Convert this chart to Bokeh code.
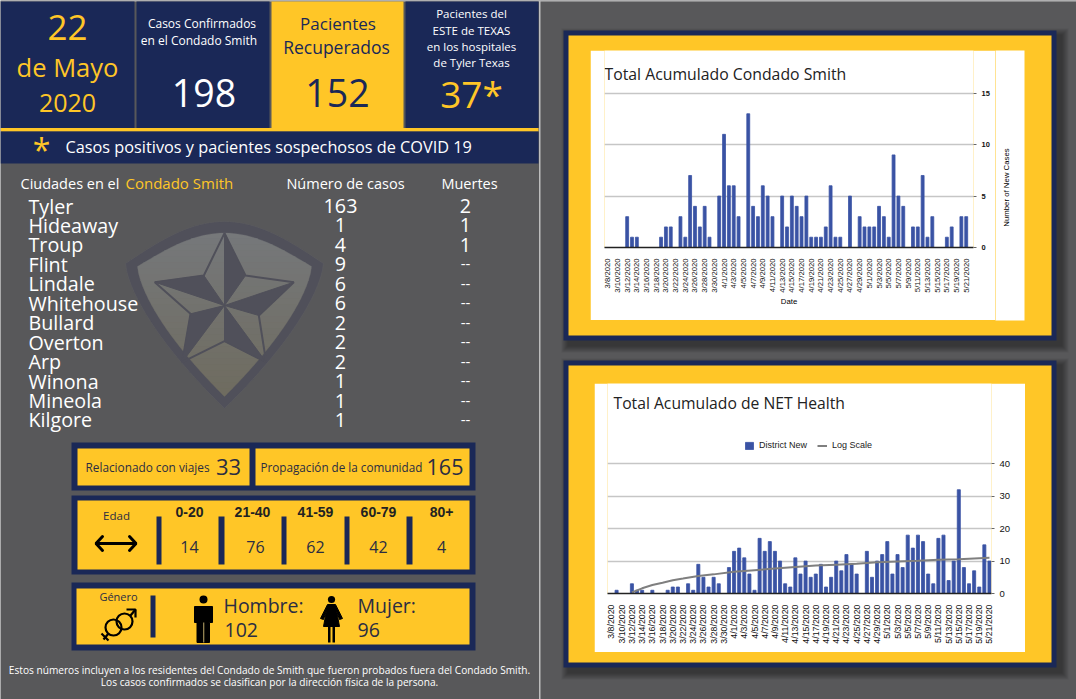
from bokeh.embed import file_html
from bokeh.resources import INLINE
from bokeh.plotting import figure
from bokeh.models import Range1d, FixedTicker, Label, Legend, LegendItem, Column
from bokeh.core.properties import value
import math

# ---------- data ----------
month_days = [("3", 8, 31), ("4", 1, 30), ("5", 1, 21)]
dates = [f"{m}/{d}/2020" for m, a, b in month_days for d in range(a, b + 1)]

smith_new = [0,0,0,0,3,1,1,0,0,0,0,1,2,2,0,3,1,7,4,2,4,1,0,5,11,6,6,3,0,13,4,3,6,5,3,0,5,2,5,4,3,5,1,1,1,2,6,1,1,0,5,0,3,2,2,2,4,3,1,9,5,4,0,2,2,7,1,3,0,0,1,2,0,3,3]
district_new = [0,1,0,0,3,1,1,0,1,0,0,1,2,2,0,3,1,9,5,2,5,3,0,8,13,14,11,6,1,17,13,16,13,10,3,2,11,6,10,5,6,9,2,5,10,7,12,9,6,0,13,5,10,12,16,6,12,8,18,14,18,16,6,3,17,18,4,10,32,8,3,7,2,15,10]
log_idx = [4,6,8,10,12,14,17,20,24,28,32,36,40,44,48,52,56,60,64,68,72,74]
log_val = [0.3,1.6,2.6,3.3,4.1,4.6,5.4,5.9,6.7,7.2,7.7,8.2,8.6,8.9,9.2,9.6,9.9,10.1,10.4,10.6,10.9,11.0]

cities = ["Tyler","Hideaway","Troup","Flint","Lindale","Whitehouse","Bullard","Overton","Arp","Winona","Mineola","Kilgore"]
cases = ["163","1","4","9","6","6","2","2","2","1","1","1"]
deaths = ["2","1","1","--","--","--","--","--","--","--","--","--"]
age_groups = ["0-20","21-40","41-59","60-79","80+"]
age_counts = ["14","76","62","42","4"]

# ---------- styling ----------
NAVY, GOLD, GRAY, BAR = "#1A2857", "#FFC627", "#58585A", "#3A53A4"
INK = "#2B2D42"
SANS, ARIAL = "Open Sans", "Liberation Sans"

bg = figure(width=1076, height=699, x_range=Range1d(0, 1076), y_range=Range1d(699, 0),
            toolbar_location=None, tools="", output_backend="svg", min_border=0, frame_align=False,
            x_axis_type=None, y_axis_type=None, outline_line_color=None,
            background_fill_color=GRAY, border_fill_color=GRAY,
            styles={"position": "absolute", "left": "0", "top": "0"})
bg.grid.visible = False

def box(x0, y0, x1, y1, color, alpha=1.0):
    bg.quad(left=[x0], right=[x1], top=[y0], bottom=[y1], fill_color=color, fill_alpha=alpha, line_color=None)

def txt(x, y, s, size, color="white", align="left", font=SANS, style="normal", angle=0):
    bg.text(x=[x], y=[y - 1], text=[s], text_font=value(font), text_font_size=f"{size}px", text_color=color,
            text_align=align, text_baseline="middle", text_font_style=style, angle=angle)

# top line and divider
box(0, 0, 1076, 1, "#BDBDBD")
box(538.5, 0, 540, 699, "#BDBDBD")

# header cards
box(0, 1, 134, 127.5, NAVY)
box(136, 1, 269, 127.5, NAVY)
box(271, 1, 403, 127.5, GOLD)
box(405, 1, 538, 127.5, NAVY)
box(0, 127.5, 538, 131, GOLD)
box(0, 131, 538, 163, NAVY)

txt(67, 28, "22", 35, GOLD, "center")
txt(67, 67, "de Mayo", 25.5, GOLD, "center")
txt(67, 103, "2020", 25, GOLD, "center")
txt(201.5, 23.5, "Casos Confirmados", 12, "white", "center")
txt(200, 40.5, "en el  Condado Smith", 12, "white", "center")
txt(203.5, 93.5, "198", 37.5, "white", "center")
txt(337.5, 24, "Pacientes", 17, NAVY, "center")
txt(336, 47, "Recuperados", 17.5, NAVY, "center")
txt(337, 93.5, "152", 37.5, NAVY, "center")
for yy, line in zip([14, 30.5, 46.5, 62.5], ["Pacientes del", "ESTE de TEXAS", "en los hospitales", "de Tyler Texas"]):
    txt(471, yy, line, 11.5, "white", "center")
txt(471, 93.5, "37*", 37, GOLD, "center")
txt(41, 150, "*", 32, GOLD, "center")
txt(65, 147.5, "Casos positivos y pacientes sospechosos de COVID 19", 16.3)

# shield watermark
def shield(top, cl, cr, bot):
    cx = top[0]
    upper = []
    for i in range(21):
        t = i / 20
        upper.append((cl[0] + (cx - cl[0]) * t, cl[1] + (top[1] - cl[1]) * math.sin(t * math.pi / 2)))
    upper_r = [(2 * cx - x, y) for x, y in reversed(upper)]
    lower = []
    for i in range(1, 21):
        t = i / 20
        lower.append((cr[0] + (cx - cr[0]) * t ** 1.5, cr[1] + (bot[1] - cr[1]) * t))
    lower_l = [(2 * cx - x, y) for x, y in reversed(lower)]
    return upper + upper_r[1:] + lower + lower_l[1:]

SH_DARK = "#50505A"
outer = shield((224, 221), (125, 263), (323, 263), (224, 408))
bg.patch([p[0] for p in outer], [p[1] for p in outer], fill_color=SH_DARK, line_color="#5F5F63", line_width=0.5)
inner = shield((224, 232.5), (137, 266), (311, 266), (224, 396))
# vertical colour fade of the inner shield, drawn as stacked slices
y_tops = list(range(232, 397, 6))
for k, yt in enumerate(y_tops):
    f = k / (len(y_tops) - 1)
    col = "#%02x%02x%02x" % (int(118 - 7 * f), int(120 - 12 * f), int(122 - 26 * f))
    clip = []
    yb = yt + 6.5
    for a, b in zip(inner, inner[1:] + inner[:1]):
        for lim in (yt, yb):
            if (a[1] - lim) * (b[1] - lim) < 0:
                t = (lim - a[1]) / (b[1] - a[1])
                clip.append((a[0] + t * (b[0] - a[0]), lim))
        if yt <= b[1] <= yb:
            clip.append(b)
    if len(clip) >= 3:
        cx = sum(p[0] for p in clip) / len(clip)
        cy = sum(p[1] for p in clip) / len(clip)
        clip.sort(key=lambda p: math.atan2(p[1] - cy, p[0] - cx))
        bg.patch([p[0] for p in clip], [p[1] for p in clip], fill_color=col, line_color=col, line_width=0.3)

sx = lambda v: 120 + v / 3
sy = lambda v: 230 + v / 3
star_o = [(312,8),(375,135),(520,155),(415,255),(437,395),(312,332),(185,395),(210,250),(103,155),(250,135)]
bg.patch([sx(p[0]) for p in star_o], [sy(p[1]) for p in star_o], fill_color=None, line_color=SH_DARK, line_width=2)
c = (312, 225)
for a, b in [((312,8),(375,135)), ((103,155),(250,135)), ((185,395),(210,250)), ((437,395),(312,332)), ((520,155),(415,255))]:
    bg.patch([sx(a[0]), sx(b[0]), sx(c[0])], [sy(a[1]), sy(b[1]), sy(c[1])], fill_color=SH_DARK, line_color=SH_DARK)

# city table
txt(20, 183.5, "Ciudades en el", 14.5)
txt(125, 183.5, "Condado Smith", 15, GOLD)
txt(345, 183.5, "Número de casos", 14.5, "white", "center")
txt(469, 183.5, "Muertes", 14.5, "white", "center")
for i, (ci, ca, de) in enumerate(zip(cities, cases, deaths)):
    yy = 206.5 + i * 19.45
    txt(28, yy, ci, 19.7)
    txt(340, yy, ca, 19.7, "white", "center")
    txt(465, yy, de, 19.7 if de != "--" else 15, "white", "center")

# route of spread
box(71, 442, 475, 490, NAVY)
box(77, 448, 249, 485, GOLD)
box(255, 448, 469, 485, GOLD)
txt(85, 467.5, "Relacionado con viajes", 11.8, INK)
txt(228, 467.5, "33", 22, INK, "center")
txt(260, 467.5, "Propagación de la comunidad", 11.7, INK)
txt(444.5, 467.5, "165", 21.5, INK, "center")

# age
box(71, 495, 475, 574, NAVY)
box(77, 500, 469, 569, GOLD)
txt(116, 515.5, "Edad", 11.5, INK, "center")
bg.multi_line([[96, 135], [102, 95.5, 102], [129, 135.5, 129]], [[543, 543], [536, 543, 550], [536, 543, 550]],
              line_color="black", line_width=3, line_cap="round")
for x0, x1 in [(156, 161), (218, 224), (281, 286), (344, 349), (406, 412)]:
    box(x0, 516, x1, 564, NAVY)
for xh, xv, g, n in zip([189, 252, 315, 378, 441], [189, 255, 315, 378, 441], age_groups, age_counts):
    txt(xh, 512, g, 14, "#222222", "center", ARIAL, "bold")
    txt(xv, 547.5, n, 16, INK, "center")

# gender
box(71, 582, 475, 650, NAVY)
box(76, 588, 469, 644, GOLD)
txt(118, 596.5, "Género", 11, INK, "center")
box(150, 595, 155, 637, NAVY)
bg.circle(x=[113, 124], y=[627, 621], radius=8, fill_color=None, line_color="black", line_width=2.2)
bg.multi_line([[130, 135], [126, 135, 135], [108, 103], [101, 108]],
              [[615, 609], [609, 609, 617], [633, 639], [633, 640]],
              line_color="black", line_width=2.2)
# man
bg.circle(x=[203], y=[599], radius=4, fill_color="black", line_color=None)
bg.patch([194, 212, 212, 209, 209, 196.5, 196.5, 194], [606, 606, 622, 622, 642, 642, 622, 622], fill_color="black", line_color="black", line_join="round")
box(202.6, 622, 203.8, 642, "#A08F5A")
# woman
bg.circle(x=[331], y=[599], radius=3.6, fill_color="black", line_color=None)
bg.patch([327, 335, 342, 339, 336, 339, 323, 326, 323, 320], [604, 604, 618, 619, 610, 626, 626, 610, 619, 618], fill_color="black", line_color="black")
box(327.5, 626, 330, 642, "black")
box(332, 626, 334.5, 642, "black")
txt(223, 605.5, "Hombre:", 19.5, INK)
txt(224, 630.5, "102", 19.5, INK)
txt(357, 605.5, "Mujer:", 19.5, INK)
txt(357, 630.5, "96", 19.5, INK)

# footnote
txt(269, 670.5, "Estos números incluyen a los residentes del Condado de Smith que fueron probados fuera del Condado Smith.", 10.15, "white", "center")
txt(269, 682.5, "Los casos confirmados se clasifican por la dirección física de la persona.", 10.15, "white", "center")

# chart frames with soft shadow
for (x0, y0, x1, y1) in [(563, 30, 1056, 340), (563, 360, 1056, 667)]:
    for i in range(7, 0, -1):
        box(x0 - i + 5, y0 - i + 5, x1 + i + 5, y1 + i + 5, "black", 0.06)
    box(x0, y0, x1, y1, NAVY)
    box(x0 + 5, y0 + 5, x1 - 5, y1 - 5, GOLD)

# white strip of chart 1's card, right of its axis: carries the value-axis title
box(995, 50, 1024, 320, "white")
txt(1006, 188, "Number of New Cases", 7.8, "#000000", "center", ARIAL, angle=math.pi / 2)

def chart(left, top, width, height, ml, mr, mb, xr, yr, yticks):
    p = figure(width=width, height=height, x_range=Range1d(*xr), y_range=Range1d(*yr),
               toolbar_location=None, tools="", output_backend="svg", y_axis_location="right",
               min_border_left=ml, min_border_right=mr, min_border_top=0, min_border_bottom=mb, frame_align=False,
               background_fill_color="white", border_fill_color="white", outline_line_color=None,
               styles={"position": "absolute", "left": f"{left}px", "top": f"{top}px"})
    p.xgrid.visible = False
    p.ygrid.grid_line_color = "#C6C6C6"
    p.ygrid.grid_line_width = 1.3
    p.ygrid.ticker = FixedTicker(ticks=yticks)
    p.yaxis.ticker = FixedTicker(ticks=yticks)
    p.xaxis.ticker = FixedTicker(ticks=list(range(0, len(dates), 2)))
    p.xaxis.major_label_overrides = {i: d for i, d in enumerate(dates)}
    p.xaxis.major_label_orientation = math.pi / 2
    p.xaxis.axis_line_color = "#222222"
    p.xaxis.axis_line_width = 1.4
    p.xaxis.major_tick_line_color = None
    p.xaxis.minor_tick_line_color = None
    p.yaxis.axis_line_color = None
    p.yaxis.minor_tick_line_color = None
    p.yaxis.major_tick_line_color = "#666666"
    p.yaxis.major_tick_in = 0
    p.yaxis.major_tick_out = 3
    for ax in (p.xaxis, p.yaxis):
        ax.major_label_text_font = ARIAL
        ax.major_label_text_color = "#111111"
    return p

# chart 1: the frame spans the white card, so the upper end of the value range holds the title
c1 = chart(590, 50, 405, 270, 14, 22, 73, (-0.68, 75.5), (0, 19.15), [0, 5, 10, 15])
c1.vbar(x=list(range(len(dates))), top=smith_new, width=0.6, bottom=0, fill_color=BAR, line_color=BAR, line_width=0.8)
c1.xaxis.major_label_text_font_size = "7.7px"
c1.yaxis.major_label_text_font_size = "7.5px"
c1.yaxis.major_label_text_font_style = "bold"
c1.xaxis.axis_label = "Date"
c1.xaxis.axis_label_text_font = ARIAL
c1.xaxis.axis_label_text_font_style = "normal"
c1.xaxis.axis_label_text_font_size = "7.8px"
c1.xaxis.axis_label_text_color = "#000000"
c1.xaxis.axis_label_standoff = 1
c1.add_layout(Label(x=-0.68, y=16.9, text="Total Acumulado Condado Smith",
                    text_font=SANS, text_font_size="15.8px", text_color="#222222", text_baseline="middle"))

# chart 2
c2 = chart(594, 383, 431, 269, 13, 34, 59, (-0.78, 74.4), (0, 64.76), [0, 10, 20, 30, 40])
bars = c2.vbar(x=list(range(len(dates))), top=district_new, width=0.6, bottom=0, fill_color=BAR, line_color=BAR, line_width=0.8)
trend = c2.line(x=log_idx, y=log_val, line_color="#7F7F7F", line_width=2)
c2.xaxis.major_label_text_font_size = "8.8px"
c2.yaxis.major_label_text_font_size = "9.5px"
c2.add_layout(Label(x=0.4, y=58.6, text="Total Acumulado de NET Health",
                    text_font=SANS, text_font_size="15.7px", text_color="#222222", text_baseline="middle"))
leg = Legend(items=[LegendItem(label="District New", renderers=[bars]), LegendItem(label="Log Scale", renderers=[trend])],
             orientation="horizontal", location=(137, 143), border_line_color=None, background_fill_alpha=0,
             label_text_font=ARIAL, label_text_font_size="9px", label_text_color="#222222",
             glyph_width=10, glyph_height=9, label_standoff=5, spacing=10, padding=2, margin=0)
c2.add_layout(leg)

p = Column(children=[bg, c1, c2], width=1076, height=699,
           styles={"position": "absolute", "left": "0", "top": "0"})

open("out.html", "w").write(file_html(p, INLINE))
